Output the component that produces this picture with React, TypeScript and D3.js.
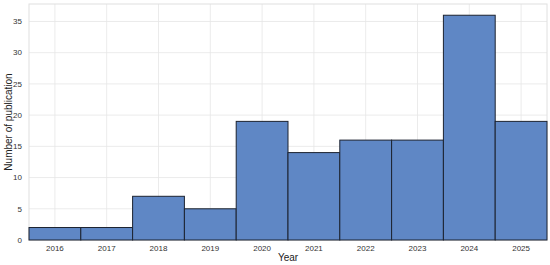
import * as d3 from "d3";
import React, { useEffect, useRef } from "react";

const years = [2016, 2017, 2018, 2019, 2020, 2021, 2022, 2023, 2024, 2025];
const counts = [2, 2, 7, 5, 19, 14, 16, 16, 36, 19];
const yTicks = [0, 5, 10, 15, 20, 25, 30, 35];

const App = () => {
  const svgRef = useRef<SVGSVGElement>(null);

  useEffect(() => {
    const totalWidth = 550,
      totalHeight = 265;
    const margin = { top: 4, right: 3, bottom: 25, left: 29 },
      width = totalWidth - margin.left - margin.right,
      height = totalHeight - margin.top - margin.bottom;

    const svg = d3
      .select(svgRef.current)
      .html("")
      .attr("width", totalWidth)
      .attr("height", totalHeight)
      .style("font-family", "'Liberation Sans', Arial, sans-serif");

    // bins are one year wide, centred on the year
    const xScale = d3
      .scaleLinear()
      .domain([years[0] - 0.5, years[years.length - 1] + 0.5])
      .range([0, width]);
    const yScale = d3
      .scaleLinear()
      .domain([0, d3.max(counts) * 1.05])
      .range([height, 0]);

    const chart = svg
      .append("g")
      .attr("transform", `translate(${margin.left},${margin.top})`);

    // grid
    chart
      .append("g")
      .selectAll("line")
      .data(yTicks)
      .enter()
      .append("line")
      .attr("x1", 0)
      .attr("x2", width)
      .attr("y1", (d) => yScale(d))
      .attr("y2", (d) => yScale(d))
      .attr("stroke", "#e6e6e6")
      .attr("stroke-width", 0.8);

    chart
      .append("g")
      .selectAll("line")
      .data(years)
      .enter()
      .append("line")
      .attr("x1", (d) => xScale(d))
      .attr("x2", (d) => xScale(d))
      .attr("y1", 0)
      .attr("y2", height)
      .attr("stroke", "#e6e6e6")
      .attr("stroke-width", 0.8);

    // frame
    chart
      .append("rect")
      .attr("width", width)
      .attr("height", height)
      .attr("fill", "none")
      .attr("stroke", "#e0e0e0")
      .attr("stroke-width", 1);

    // bars
    chart
      .append("g")
      .selectAll("rect")
      .data(counts)
      .enter()
      .append("rect")
      .attr("x", (d, i) => xScale(years[i] - 0.5))
      .attr("width", (d, i) => xScale(years[i] + 0.5) - xScale(years[i] - 0.5))
      .attr("y", (d) => yScale(d))
      .attr("height", (d) => height - yScale(d))
      .attr("fill", "#5f87c5")
      .attr("stroke", "#1c2330")
      .attr("stroke-width", 1);

    // tick labels
    chart
      .append("g")
      .selectAll("text")
      .data(years)
      .enter()
      .append("text")
      .attr("x", (d) => xScale(d))
      .attr("y", height + 11)
      .attr("text-anchor", "middle")
      .style("font-size", "8px")
      .attr("fill", "#333")
      .text((d) => d);

    chart
      .append("g")
      .selectAll("text")
      .data(yTicks)
      .enter()
      .append("text")
      .attr("x", -7)
      .attr("y", (d) => yScale(d))
      .attr("dy", "0.35em")
      .attr("text-anchor", "end")
      .style("font-size", "8px")
      .attr("fill", "#333")
      .text((d) => d);

    // axis titles
    svg
      .append("text")
      .attr("x", margin.left + width / 2)
      .attr("y", 261)
      .attr("text-anchor", "middle")
      .style("font-size", "10px")
      .attr("fill", "#222")
      .text("Year");

    svg
      .append("text")
      .attr("transform", `translate(12,${margin.top + height / 2}) rotate(-90)`)
      .attr("text-anchor", "middle")
      .style("font-size", "10px")
      .attr("fill", "#222")
      .text("Number of publication");
  }, []);

  return (
    <div style={{ position: "absolute", left: 0, top: 0 }}>
      <svg ref={svgRef} style={{ display: "block" }} />
    </div>
  );
};

export default App;
